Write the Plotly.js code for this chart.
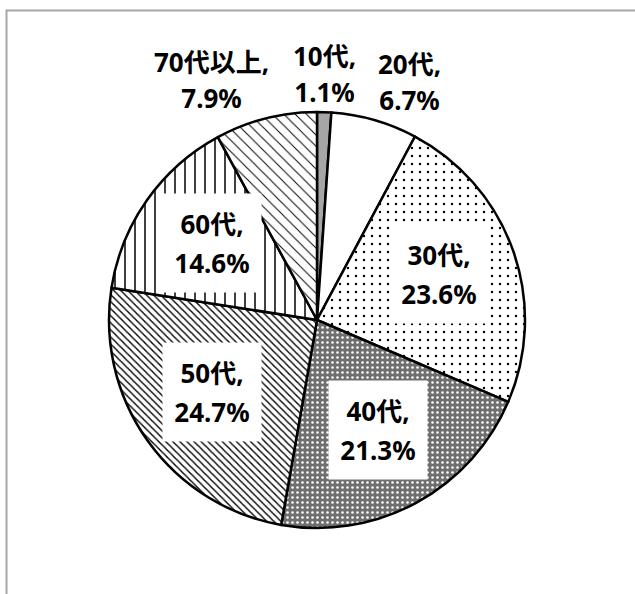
<!DOCTYPE html>
<html>
<head>
<meta charset="utf-8">
<script src="https://cdn.plot.ly/plotly-3.0.1.min.js"></script>
<style>html,body{margin:0;padding:0;background:#fff;}#chart{width:635px;height:594px;}</style>
</head>
<body>
<div id="chart"></div>
<script>
// ---- data ----
const categories = ['10代', '20代', '30代', '40代', '50代', '60代', '70代以上'];
const percents = [1.1, 6.7, 23.6, 21.3, 24.7, 14.6, 7.9];
const labelInside = [false, false, true, true, true, true, false];

// ---- styles ----
const patternShapes = ['', '', '.', '.', '\\', '|', '\\'];
const patternSizes = [8, 8, 8, 5, 5, 10, 8];
const patternSolidity = [0.3, 0.3, 0.07, 0.2, 0.28, 0.15, 0.12];
const sliceColors = ['#a6a6a6', '#ffffff', '#ffffff', '#6f6f6f', '#ffffff', '#ffffff', '#ffffff'];
const patternFg = ['#000000', '#000000', '#000000', '#ffffff', '#000000', '#000000', '#000000'];

const W = 635, H = 594;
const cxPx = 317, cyPx = 320, R = 208;
const FONT = 'Noto Sans, "Noto Sans CJK JP", sans-serif';

const total = percents.reduce((a, b) => a + b, 0);
let cum = 0;
const annotations = [];
percents.forEach((p, i) => {
  const mid = (cum + p / 2) / total * 2 * Math.PI;
  cum += p;
  const s = Math.sin(mid), c = Math.cos(mid);
  const txt = '<span style="font-size:26px">' + categories[i] + ',</span><br>' +
              '<span style="font-size:26px">' + p.toFixed(1) + '%</span>';
  if (labelInside[i]) {
    const r = 0.62 * R;
    annotations.push({
      xref: 'paper', yref: 'paper',
      x: (cxPx + r * s) / W, y: 1 - (cyPx - r * c) / H,
      xanchor: 'center', yanchor: 'middle', yshift: 3,
      text: txt, showarrow: false, align: 'center',
      bgcolor: '#ffffff', width: 96, height: 96,
      font: {family: FONT, size: 30, color: '#000', weight: 'bold'}
    });
  } else {
    const r = 1.03 * R;
    annotations.push({
      xref: 'paper', yref: 'paper',
      x: (cxPx + r * s) / W, y: 1 - (cyPx - r * c) / H,
      xanchor: s > 0.2 ? 'left' : (s < -0.2 ? 'right' : 'center'),
      xshift: s < -0.2 ? 7 : 0, yshift: -6,
      yanchor: 'bottom',
      text: txt, showarrow: false, align: 'center',
      font: {family: FONT, size: 28, color: '#000', weight: 'bold'}
    });
  }
});

const trace = {
  type: 'pie',
  labels: categories,
  values: percents,
  sort: false,
  direction: 'clockwise',
  rotation: 0,
  textinfo: 'none',
  hoverinfo: 'none',
  showlegend: false,
  domain: {x: [(cxPx - R) / W, (cxPx + R) / W], y: [1 - (cyPx + R) / H, 1 - (cyPx - R) / H]},
  marker: {
    colors: sliceColors,
    line: {color: '#000000', width: 2.5},
    pattern: {
      shape: patternShapes,
      size: patternSizes,
      solidity: patternSolidity,
      fgcolor: patternFg,
      bgcolor: sliceColors,
      fillmode: 'replace'
    }
  }
};

const layout = {
  width: W, height: H,
  margin: {l: 0, r: 0, t: 0, b: 0},
  paper_bgcolor: '#ffffff',
  showlegend: false,
  annotations: annotations,
  shapes: [{
    type: 'rect', xref: 'paper', yref: 'paper',
    x0: 6.5 / W, x1: 1.2, y0: -0.2, y1: 1 - 10.5 / H,
    line: {color: '#a6a6a6', width: 2}, fillcolor: 'rgba(0,0,0,0)', layer: 'below'
  }]
};

Plotly.newPlot('chart', [trace], layout, {displayModeBar: false, staticPlot: true});
</script>
</body>
</html>
